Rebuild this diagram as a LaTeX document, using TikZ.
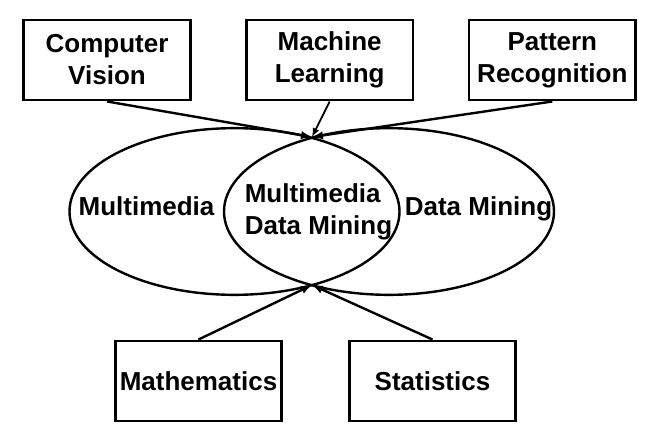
\documentclass[tikz,border=0pt]{standalone}
\usepackage{fontspec}
\setmainfont{Liberation Sans}
\usetikzlibrary{shapes,arrows,positioning}

\begin{document}
\begin{tikzpicture}[x=0.75pt, y=0.75pt, node distance=167pt, auto, >=latex,
    field/.style={draw, line width=2.2pt, minimum width=125pt, minimum height=60pt, align=center, font=\bfseries\fontsize{19.5}{24}\selectfont},
    area/.style={draw, ellipse, line width=1.8pt, minimum width=247.5pt, minimum height=125pt},
    tag/.style={inner sep=0pt, font=\bfseries\fontsize{19.5}{24}\selectfont}]
        \useasboundingbox (0,0) rectangle (661,437);

        % Related fields
        \node [field] (vision) at (107,377) {Computer\\Vision};
        \node [field, right of=vision] (learning) {Machine\\Learning};
        \node [field, right of=learning] (pattern) {Pattern\\Recognition};

        % Overlapping areas
        \node [area] (media) at (234.5,225.5) {};
        \node [area] (mining) at (389,225.5) {};
        \node [tag, anchor=base] (mediatext) at (146.5,222) {Multimedia};
        \node [tag, anchor=base] (miningtext) at (478.5,222) {Data Mining};
        \node [tag, align=left] (both) at (318.5,225) {Multimedia\\Data Mining};

        % Foundations
        \node [field] (maths) at (198.5,56) {Mathematics};
        \node [field, right of=maths, node distance=175.5pt] (stats) {Statistics};

        % Meeting points
        \coordinate (top) at (312,300);
        \coordinate (bottom) at (312,152);

        % Arrows
        \draw [->, line width=1.8pt] (vision.south) -- (top);
        \draw [->, line width=1.3pt] (learning.south) -- (top);
        \draw [->, line width=1.8pt] (pattern.south) -- (top);
        \draw [->, line width=1.8pt] (maths.north) -- (bottom);
        \draw [->, line width=1.8pt] (stats.north) -- (bottom);
    \end{tikzpicture}
\end{document}
